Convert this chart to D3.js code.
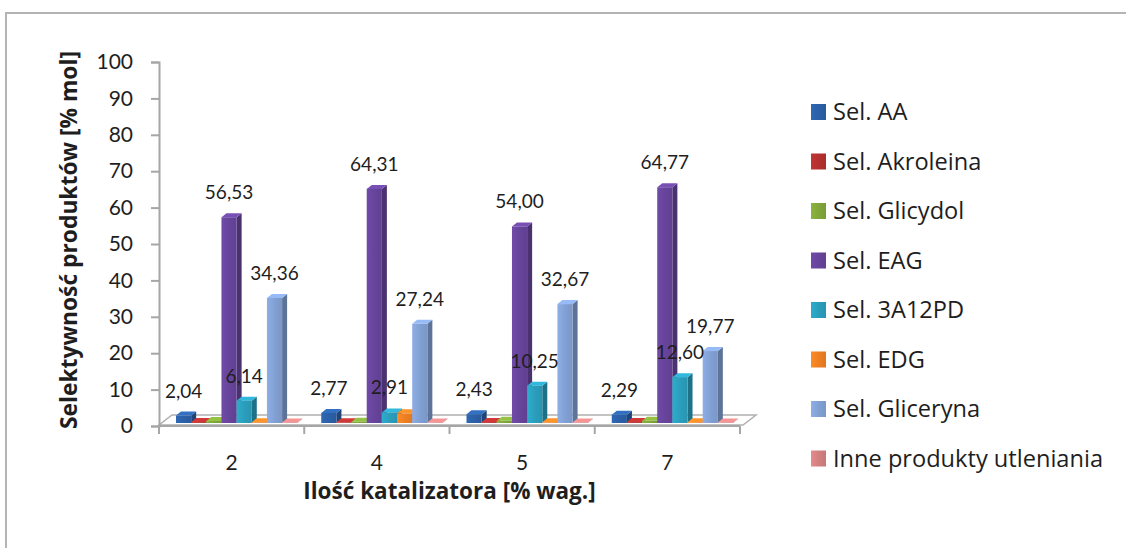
<!DOCTYPE html>
<html>
<head>
<meta charset="utf-8">
<script src="https://cdn.jsdelivr.net/npm/d3@7"></script>
<style>
  body { margin: 0; background: #ffffff; }
  svg { display: block; }
  text { font-family: Lato, "Open Sans", "Liberation Sans", sans-serif; fill: #1e1e1e; }
  .word { font-family: "Open Sans", Lato, sans-serif; }
</style>
</head>
<body>
<svg id="chart" width="1126" height="548"></svg>
<script>
// Catalyst loading (% wt) on the category axis
const categories = ["2", "4", "5", "7"];

// Product selectivities (% mol), one array per product
const selAA        = [2.04, 2.77, 2.43, 2.29];
const selAkroleina = [0.25, 0.20, 0.25, 0.25];
const selGlicydol  = [0.55, 0.35, 0.60, 0.60];
const selEAG       = [56.53, 64.31, 54.00, 64.77];
const sel3A12PD    = [6.14, 2.91, 10.25, 12.60];
const selEDG       = [0.20, 2.65, 0.20, 0.20];
const selGliceryna = [34.36, 27.24, 32.67, 19.77];
const selInne      = [0.15, 0.15, 0.15, 0.15];

const seriesNames = ["Sel. AA", "Sel. Akroleina", "Sel. Glicydol", "Sel. EAG",
                     "Sel. 3A12PD", "Sel. EDG", "Sel. Gliceryna", "Inne produkty utleniania"];
const seriesValues = [selAA, selAkroleina, selGlicydol, selEAG,
                      sel3A12PD, selEDG, selGliceryna, selInne];
const seriesColors = ["#2b5fa6", "#b3302f", "#80a53a", "#66449a",
                      "#2a9dbb", "#ec7f22", "#819fd2", "#d27f7f"];
// Series whose bars carry a value label
const labelledSeries = ["Sel. AA", "Sel. EAG", "Sel. 3A12PD", "Sel. Gliceryna"];

const yTicks = [0, 10, 20, 30, 40, 50, 60, 70, 80, 90, 100];
const yTitle = "Selektywność produktów [% mol]";
const xTitle = "Ilość katalizatora [% wag.]";

const series = seriesNames.map((name, i) => ({ name, values: seriesValues[i], color: seriesColors[i] }));

const svg = d3.select("#chart");
const axisColor = "#a6a6a6";

// Outer chart frame
svg.append("rect")
  .attr("x", 6).attr("y", 13).attr("width", 1200).attr("height", 600)
  .attr("fill", "none").attr("stroke", "#b4b4b4").attr("stroke-width", 2);

// Scales
const plotLeft = 159, plotRight = 740;
const x0 = d3.scaleBand().domain(categories).range([plotLeft, plotRight]).padding(0);
const x1 = d3.scaleBand().domain(seriesNames).range([12, x0.bandwidth() - 12]).padding(0);
const y = d3.scaleLinear().domain([0, 100]).range([423, 59]);

// 3D projection offsets
const barShiftX = 5;      // bars sit a little behind the floor's front edge
const depthX = 5, depthY = -4;
const floorDX = 13, floorDY = -10;
const floorFrontY = 425;

// Gradients for bar front faces
const defs = svg.append("defs");
series.forEach((s, i) => {
  const c = d3.color(s.color);
  const g = defs.append("linearGradient").attr("id", "grad" + i)
    .attr("x1", "0%").attr("x2", "100%").attr("y1", "0%").attr("y2", "0%");
  g.append("stop").attr("offset", "0%").attr("stop-color", c.brighter(0.25).formatHex());
  g.append("stop").attr("offset", "55%").attr("stop-color", c.formatHex());
  g.append("stop").attr("offset", "100%").attr("stop-color", c.darker(0.15).formatHex());
});

// Floor of the 3D plot
svg.append("polygon")
  .attr("points", [
    [plotLeft, floorFrontY], [plotRight + 3, floorFrontY],
    [plotRight + 3 + floorDX, floorFrontY + floorDY], [plotLeft + floorDX, floorFrontY + floorDY]
  ].map(p => p.join(",")).join(" "))
  .attr("fill", "#ffffff").attr("stroke", "#b0b0b0").attr("stroke-width", 1.5);

// Value axis (ticks sit slightly below the bar plane)
const yAxisG = svg.append("g")
  .attr("transform", `translate(${plotLeft},3)`)
  .call(d3.axisLeft(y).tickValues(yTicks).tickSize(8).tickPadding(18).tickFormat(d3.format("d")));
yAxisG.select(".domain").attr("stroke", axisColor).attr("stroke-width", 2);
yAxisG.selectAll(".tick line").attr("stroke", axisColor).attr("stroke-width", 2);
yAxisG.selectAll(".tick text").attr("font-size", 21).attr("fill", "#1e1e1e")
  .attr("font-family", "Lato, sans-serif");

// Category axis: line with boundary ticks and centred labels
svg.append("line")
  .attr("x1", plotLeft).attr("x2", plotRight).attr("y1", 426).attr("y2", 426)
  .attr("stroke", axisColor).attr("stroke-width", 2);
const boundaries = categories.map(c => x0(c)).concat([x0(categories[categories.length - 1]) + x0.bandwidth()]);
svg.selectAll(".xtick").data(boundaries).join("line")
  .attr("class", "xtick")
  .attr("x1", d => d).attr("x2", d => d).attr("y1", 426).attr("y2", 434)
  .attr("stroke", axisColor).attr("stroke-width", 2);
svg.selectAll(".xlabel").data(categories).join("text")
  .attr("class", "xlabel")
  .attr("x", d => x0(d) + x0.bandwidth() / 2)
  .attr("y", 470)
  .attr("text-anchor", "middle")
  .attr("font-size", 21)
  .text(d => d);

// Bars, drawn left to right so each front face covers its neighbour's side face
const barW = x1.bandwidth();
const barsG = svg.append("g");
categories.forEach((cat, ci) => {
  series.forEach((s, si) => {
    const v = s.values[ci];
    const xl = x0(cat) + x1(s.name) + barShiftX;
    const yb = y(0), yt = y(v);
    const c = d3.color(s.color);
    const g = barsG.append("g");
    // side face
    g.append("polygon")
      .attr("points", [[xl + barW, yb], [xl + barW + depthX, yb + depthY],
                       [xl + barW + depthX, yt + depthY], [xl + barW, yt]].map(p => p.join(",")).join(" "))
      .attr("fill", c.darker(0.9).formatHex());
    // top face
    g.append("polygon")
      .attr("points", [[xl, yt], [xl + depthX, yt + depthY],
                       [xl + barW + depthX, yt + depthY], [xl + barW, yt]].map(p => p.join(",")).join(" "))
      .attr("fill", c.brighter(0.45).formatHex());
    // front face
    g.append("rect")
      .attr("x", xl).attr("y", yt).attr("width", barW).attr("height", Math.max(0.5, yb - yt))
      .attr("fill", `url(#grad${si})`);
  });
});

// Value labels
const fmt = v => d3.format(".2f")(v).replace(".", ",");
categories.forEach((cat, ci) => {
  series.filter(s => labelledSeries.includes(s.name)).forEach(s => {
    const v = s.values[ci];
    svg.append("text")
      .attr("x", x0(cat) + x1(s.name) + barShiftX + barW / 2)
      .attr("y", y(v) - 18)
      .attr("text-anchor", "middle")
      .attr("font-size", 19)
      .text(fmt(v));
  });
});

// Axis titles
svg.append("text")
  .attr("class", "word")
  .attr("transform", `translate(77,${(62 + 426) / 2 - 4}) rotate(-90)`)
  .attr("text-anchor", "middle")
  .attr("font-size", 22.8).attr("font-weight", 700)
  .text(yTitle);
svg.append("text")
  .attr("class", "word")
  .attr("x", (plotLeft + plotRight) / 2)
  .attr("y", 499)
  .attr("text-anchor", "middle")
  .attr("font-size", 22.5).attr("font-weight", 700)
  .text(xTitle);

// Legend
const legend = svg.append("g");
series.forEach((s, i) => {
  const base = 120 + i * 49.5;
  legend.append("rect")
    .attr("x", 811).attr("y", base - 16).attr("width", 15).attr("height", 16)
    .attr("fill", `url(#grad${i})`);
  legend.append("text")
    .attr("class", "word")
    .attr("x", 833).attr("y", base)
    .attr("font-size", 23.6)
    .text(s.name);
});
</script>
</body>
</html>
